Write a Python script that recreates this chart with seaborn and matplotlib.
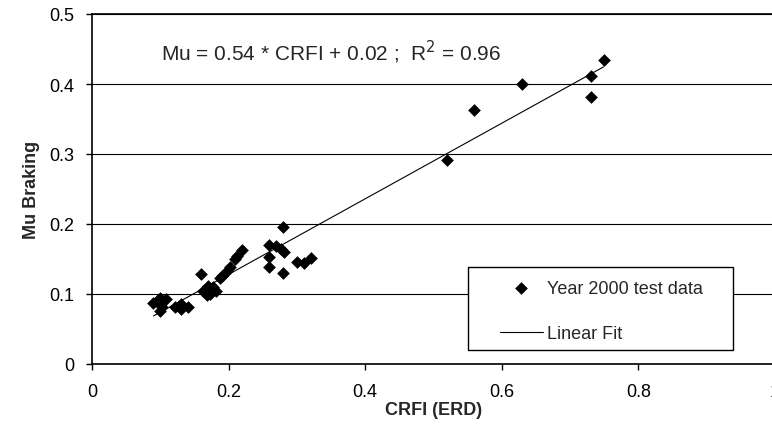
import matplotlib
matplotlib.use("Agg")
import matplotlib.pyplot as plt
from matplotlib.patches import Rectangle
from matplotlib.ticker import FuncFormatter, MultipleLocator
import numpy as np
import seaborn as sns

# ---- data ----
crfi = [0.749, 0.730, 0.730, 0.630, 0.560, 0.520,
        0.280, 0.259, 0.270, 0.277, 0.281, 0.259, 0.259, 0.280, 0.300, 0.310, 0.320,
        0.220, 0.212, 0.209, 0.202, 0.197, 0.190, 0.187, 0.177, 0.170, 0.163, 0.173,
        0.182, 0.168, 0.159,
        0.099, 0.109, 0.090, 0.102, 0.099, 0.121, 0.131, 0.131, 0.141, 0.095]
mu = [0.435, 0.412, 0.382, 0.400, 0.363, 0.292,
      0.196, 0.170, 0.169, 0.164, 0.160, 0.153, 0.139, 0.130, 0.146, 0.144, 0.152,
      0.163, 0.155, 0.150, 0.138, 0.133, 0.126, 0.123, 0.110, 0.112, 0.105, 0.100,
      0.105, 0.098, 0.128,
      0.095, 0.093, 0.087, 0.081, 0.076, 0.081, 0.086, 0.079, 0.081, 0.090]
fit_slope = 0.54
fit_intercept = 0.02
r_squared = 0.96
series_label = "Year 2000 test data"
fit_label = "Linear Fit"
x_label = "CRFI (ERD)"
y_label = "Mu Braking"

sns.set_style("white")
plt.rcParams["font.family"] = ["Liberation Sans", "DejaVu Sans"]

W, H = 772, 439
AX_L, AX_R, AX_T, AX_B = 92, 775, 15, 365
AW, AH = AX_R - AX_L, AX_B - AX_T

def fx_(px):
    return (px - AX_L) / AW

def fy_(py):
    return (AX_B - py) / AH

fig = plt.figure(figsize=(W / 100, H / 100), dpi=100)
ax = fig.add_axes([AX_L / W, 1 - AX_B / H, AW / W, AH / H])

ax.set_axisbelow(True)
ax.yaxis.grid(True, color="black", linewidth=0.8)
ax.xaxis.grid(False)

sns.scatterplot(x=crfi, y=mu, marker="D", color="black", s=42, linewidth=0,
                ax=ax, label=series_label, zorder=3)

fx = np.array([min(crfi), max(crfi)])
fy = fit_slope * fx + fit_intercept
sns.lineplot(x=fx, y=fy, color="black", linewidth=0.8, ax=ax, label=fit_label,
             zorder=2)

ax.set_xlim(0, 1.0)
ax.set_ylim(0, 0.5)
ax.xaxis.set_major_locator(MultipleLocator(0.2))
ax.yaxis.set_major_locator(MultipleLocator(0.1))
fmt = FuncFormatter(lambda v, p: f"{v:g}")
ax.xaxis.set_major_formatter(fmt)
ax.yaxis.set_major_formatter(fmt)
ax.tick_params(axis="both", which="major", direction="out", length=4.5,
               width=1, color="black", labelsize=13, labelcolor="black")
ax.tick_params(axis="x", pad=9)
ax.tick_params(axis="y", pad=8)
ax.xaxis.set_ticks_position("bottom")
ax.yaxis.set_ticks_position("left")

for side, sp in ax.spines.items():
    sp.set_color("black")
    sp.set_linewidth(1.2)
    sp.set_visible(True)

ax.set_xlabel(x_label, fontsize=13, fontweight="bold", labelpad=1)
ax.set_ylabel(y_label, fontsize=13, fontweight="bold", labelpad=7)

ax.text(fx_(161), fy_(52),
        f"Mu = {fit_slope:.2f} * CRFI + {fit_intercept:.2f} ;  R$^2$ = {r_squared:.2f}",
        transform=ax.transAxes, fontsize=15, va="center", ha="left")

# legend box
ax.add_patch(Rectangle((fx_(468), fy_(351)), 265 / AW, 83 / AH,
                       transform=ax.transAxes, facecolor="white", edgecolor="black",
                       linewidth=1, zorder=4))
leg = ax.legend(loc="center", bbox_to_anchor=(fx_(601), fy_(312)),
                frameon=False, fontsize=13, handlelength=2.4, handletextpad=0.2,
                labelspacing=1.6, borderpad=0)
leg.set_zorder(5)

fig.savefig("out.png", dpi=100)
